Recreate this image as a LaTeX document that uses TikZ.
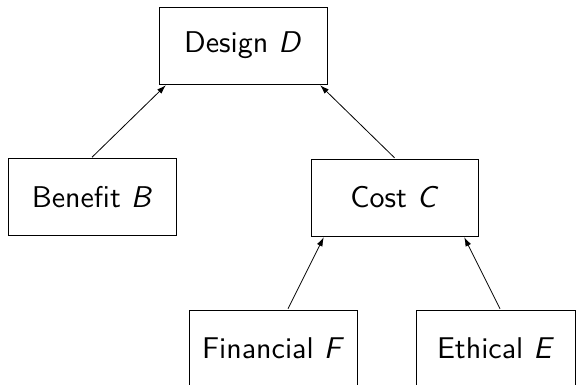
\documentclass[tikz,border=0pt]{standalone}
\usepackage{amsmath}
\usepackage{tikz}
\usetikzlibrary{arrows.meta}
\usetikzlibrary{positioning}

\tikzset{
    factor/.style={draw, line width=0.8pt, scale=3, inner sep=0pt, minimum width=56pt, minimum height=25.7pt,
        font=\sffamily},
    link/.style={-{Latex[length=9pt,width=6pt]}, line width=0.8pt}
}

\begin{document}
\begin{tikzpicture}[x=1pt,y=-1pt]
        \clip (0,0) rectangle (579,385);
        \node[factor] (des) at (243, 45.5) {Design \textit{D}};
        \node[factor] (ben) at (92, 197) {Benefit \textit{B}};
        \node[factor, minimum width=55.7pt] (cost) at (394.5, 197.5) {Cost \textit{C}};
        \node[factor] (fin) at (273, 348.5) {Financial \textit{F}};
        \node[factor, minimum width=53pt] (eth) at (495.5, 348.5) {Ethical \textit{E}};

        \draw[link] (ben.north) -- ([xshift=8pt]des.south west);
        \draw[link] (cost.north) -- ([xshift=-8pt]des.south east);
        \draw[link] ([xshift=15pt]fin.north) -- ([xshift=14pt]cost.south west);
        \draw[link] ([xshift=4.5pt]eth.north) -- ([xshift=-15pt]cost.south east);
    \end{tikzpicture}
\end{document}
